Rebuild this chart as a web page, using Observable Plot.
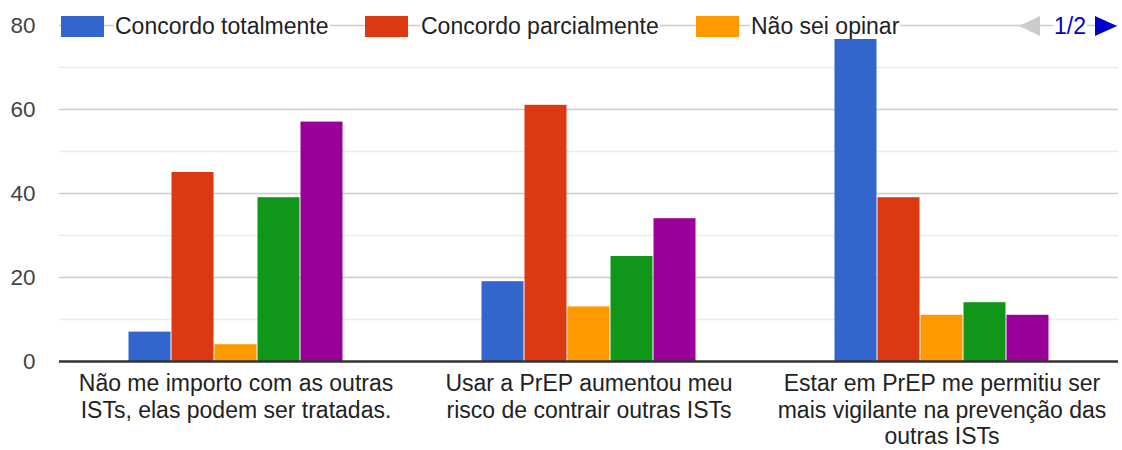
<!DOCTYPE html>
<html>
<head>
<meta charset="utf-8">
<script src="https://cdn.jsdelivr.net/npm/d3@7"></script>
<script src="https://cdn.jsdelivr.net/npm/@observablehq/plot@0.6"></script>
<style>
  html, body { margin: 0; padding: 0; background: #fff; }
  #wrap { position: relative; width: 1122px; height: 450px; font-family: "Liberation Sans", Arial, sans-serif; }
  #legend { position: absolute; left: 0; top: 0; width: 1122px; height: 50px; pointer-events: none; }
  .sw { position: absolute; top: 16px; width: 43px; height: 21px; }
  .lt { position: absolute; top: 13px; font-size: 23px; line-height: 26px; color: #222; background: #fff; padding: 0 1px; white-space: nowrap; }
  .tri { position: absolute; top: 16px; width: 0; height: 0; border-top: 10px solid transparent; border-bottom: 10px solid transparent; }
</style>
</head>
<body>
<div id="wrap"><div id="legend"></div></div>
<script>
const categories = [
  "Não me importo com as outras\nISTs, elas podem ser tratadas.",
  "Usar a PrEP aumentou meu\nrisco de contrair outras ISTs",
  "Estar em PrEP me permitiu ser\nmais vigilante na prevenção das\noutras ISTs"
];
const series = ["Concordo totalmente", "Concordo parcialmente", "Não sei opinar", "Discordo parcialmente", "Discordo totalmente"];
const concordoTotalmente = [7, 19, 77];
const concordoParcialmente = [45, 61, 39];
const naoSeiOpinar = [4, 13, 11];
const discordoParcialmente = [39, 25, 14];
const discordoTotalmente = [57, 34, 11];
const colors = ["#3366cc", "#dc3912", "#ff9900", "#109618", "#990099"];
const yTicks = [0, 20, 40, 60, 80];
const yMinorTicks = [10, 30, 50, 70];
const legendSeries = series.slice(0, 3);
const pageLabel = "1/2";

const valuesBySeries = [concordoTotalmente, concordoParcialmente, naoSeiOpinar, discordoParcialmente, discordoTotalmente];
const data = categories.flatMap((c, i) => series.map((s, j) => ({category: c, series: s, value: valuesBySeries[j][i]})));

const W = 1122, H = 450, mL = 59, mR = 4, mT = 25, mB = 89;
const padInner = 0.38, padOuter = 0.19;
const step = (W - mL - mR) / (categories.length - padInner + 2 * padOuter);
const ext = -padOuter * step; // extend facet rules across facet gaps

const chart = Plot.plot({
  width: W,
  height: H,
  marginTop: mT,
  marginBottom: mB,
  marginLeft: mL,
  marginRight: mR,
  style: {fontFamily: "'Liberation Sans', Arial, sans-serif", background: "white", overflow: "visible"},
  fx: {domain: categories, paddingInner: padInner, paddingOuter: padOuter, label: null},
  x: {domain: series, padding: 0, axis: null},
  y: {domain: [0, 80], axis: null},
  color: {domain: series, range: colors},
  marks: [
    Plot.ruleY(yMinorTicks, {stroke: "#ebebeb", strokeWidth: 1.5, insetLeft: ext, insetRight: ext}),
    Plot.ruleY(yTicks.slice(1), {stroke: "#cccccc", strokeWidth: 1.5, insetLeft: ext, insetRight: ext}),
    Plot.barY(data, {fx: "category", x: "series", y: "value", fill: "series", insetLeft: 0.5, insetRight: 0.5}),
    Plot.ruleY([0], {stroke: "#333333", strokeWidth: 2.5, insetLeft: ext, insetRight: ext}),
    Plot.axisY({ticks: yTicks, tickSize: 0, tickPadding: 91, fontSize: 22.5, fill: "#444", label: null}),
    Plot.axisFx({anchor: "bottom", tickSize: 0, tickPadding: 10, fontSize: 23, lineHeight: 1.17, fill: "#222", label: null})
  ]
});
const wrap = document.getElementById("wrap");
wrap.insertBefore(chart, wrap.firstChild);

// Legend (HTML overlay on top of the 80 gridline)
const legend = document.getElementById("legend");
const swatchLeft = [61, 365, 696];
const textLeft = [114, 420, 750];
legendSeries.forEach((s, i) => {
  const sw = document.createElement("div");
  sw.className = "sw";
  sw.style.left = swatchLeft[i] + "px";
  sw.style.background = colors[i];
  legend.appendChild(sw);
  const t = document.createElement("div");
  t.className = "lt";
  t.style.left = textLeft[i] + "px";
  t.textContent = s;
  legend.appendChild(t);
});
const left = document.createElement("div");
left.className = "tri";
left.style.left = "1019px";
left.style.borderRight = "21px solid #cccccc";
legend.appendChild(left);
const pg = document.createElement("div");
pg.className = "lt";
pg.style.left = "1053px";
pg.style.color = "#0000cc";
pg.textContent = pageLabel;
legend.appendChild(pg);
const right = document.createElement("div");
right.className = "tri";
right.style.left = "1095px";
right.style.borderLeft = "22px solid #0000cc";
legend.appendChild(right);
</script>
</body>
</html>
